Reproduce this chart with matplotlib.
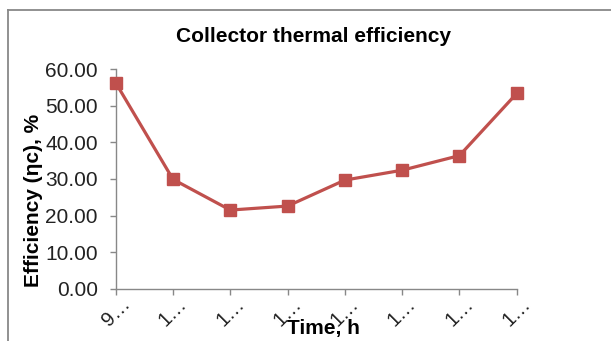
import matplotlib.pyplot as plt
from matplotlib.lines import Line2D

# Hourly readings of collector thermal efficiency
times = ["9:00", "10:00", "11:00", "12:00", "13:00", "14:00", "15:00", "16:00"]
efficiency = [56.3, 29.9, 21.5, 22.6, 29.7, 32.4, 36.4, 53.4]
y_ticks = [0, 10, 20, 30, 40, 50, 60]

plt.rcParams['font.family'] = ['Liberation Sans', 'DejaVu Sans']

fig = plt.figure(figsize=(6.11, 3.41), dpi=100)
ax = fig.add_axes([0.1894, 0.1534, 0.8457 - 0.1894, 0.7968 - 0.1534])

x = list(range(len(times)))
ax.plot(x, efficiency, color='#C0504D', linewidth=2.3, marker='s',
        markersize=9, markerfacecolor='#C0504D', markeredgecolor='#C0504D',
        clip_on=False, zorder=3)

ax.set_xlim(0, len(times) - 1)
ax.set_ylim(0, 60)
ax.set_yticks(y_ticks)
ax.set_yticklabels([f"{v:.2f}" for v in y_ticks], fontsize=15, color='#222222')

# category labels are too long for the space, so they get cut off with an ellipsis
ax.set_xticks(x)
ax.set_xticklabels([t[0] + "\u2026" for t in times], rotation=45,
                   ha='center', va='top', fontsize=14.5, color='#222222')

for side in ['top', 'right']:
    ax.spines[side].set_visible(False)
for side in ['left', 'bottom']:
    ax.spines[side].set_color('#888888')
    ax.spines[side].set_linewidth(1.0)
ax.tick_params(axis='both', direction='out', length=4, width=1.0, color='#888888')
ax.tick_params(axis='x', pad=0)
ax.tick_params(axis='y', pad=9)

fig.text(314 / 611, 1 - 37 / 341, "Collector thermal efficiency", fontsize=15,
         fontweight='bold', ha='center', va='center')
ax.set_xlabel("Time, h", fontsize=15, fontweight='bold')
ax.xaxis.set_label_coords(0.519, -0.14)
ax.set_ylabel("Efficiency (\u03b7c), %", fontsize=15, fontweight='bold')
ax.yaxis.set_label_coords(-0.181, 0.404)

# chart border along top and left
fig.add_artist(Line2D([8 / 611, 1], [1 - 10 / 341] * 2, transform=fig.transFigure,
                      color='#888888', linewidth=1.3))
fig.add_artist(Line2D([8 / 611] * 2, [0, 1 - 10 / 341], transform=fig.transFigure,
                      color='#888888', linewidth=1.3))

fig.savefig("out.png", dpi=100)
